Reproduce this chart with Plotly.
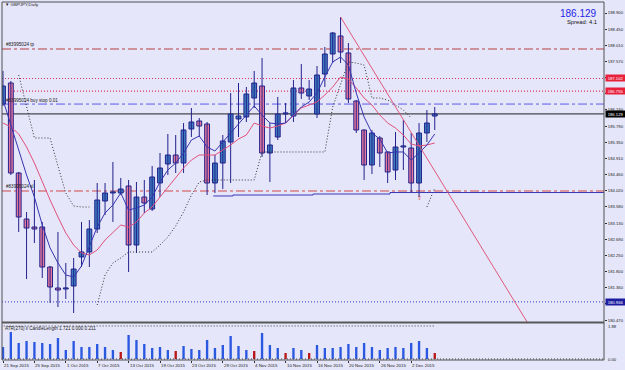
import plotly.graph_objects as go

# ---------------- data ----------------
bars = list(range(56))
opens = [186.402, 186.978, 184.507, 183.244, 183.024, 183.024, 181.926, 181.349, 181.322, 181.404,
         182.201, 182.338, 182.969, 183.738, 183.958, 183.958, 184.150, 182.530, 183.848, 183.518,
         184.232, 184.754, 185.001, 184.781, 185.715, 185.935, 185.852, 184.232, 184.781, 185.358,
         185.990, 186.045, 186.566, 186.896, 185.056, 185.495, 186.127, 186.072, 186.841, 186.621,
         186.127, 187.225, 187.774, 188.269, 187.802, 186.484, 185.688, 184.727, 185.468, 185.084,
         184.589, 185.221, 185.193, 184.232, 185.605, 186.072]
highs = [187.308, 187.033, 184.534, 183.436, 184.315, 183.162, 181.953, 182.887, 182.036, 182.173,
         183.162, 183.216, 184.232, 184.232, 184.809, 184.370, 184.315, 184.260, 184.315, 184.699,
         185.056, 185.578, 185.550, 185.880, 186.292, 186.017, 185.907, 185.001, 185.550, 186.703,
         186.978, 186.868, 187.308, 187.664, 185.880, 186.594, 186.429, 187.060, 187.500, 187.060,
         187.445, 187.967, 188.378, 188.790, 188.076, 186.511, 185.700, 185.688, 185.523, 185.100,
         185.633, 185.962, 185.605, 185.880, 186.237, 186.319]
lows = [186.347, 184.452, 182.887, 181.596, 182.585, 181.624, 180.938, 180.828, 181.047, 180.663,
        181.926, 181.926, 182.860, 183.354, 183.162, 183.903, 181.789, 182.310, 183.409, 183.464,
        183.848, 184.452, 184.507, 184.507, 185.495, 185.495, 183.903, 183.958, 184.068, 184.232,
        185.495, 185.907, 186.292, 184.946, 184.260, 185.413, 185.880, 185.907, 186.539, 186.511,
        186.017, 186.868, 187.527, 187.527, 186.429, 185.605, 184.315, 184.479, 184.672, 184.232,
        184.315, 184.589, 183.958, 183.848, 185.358, 185.688]
closes = [186.896, 184.507, 183.299, 182.997, 182.969, 181.926, 181.377, 181.294, 181.349, 181.871,
          182.338, 182.969, 183.766, 183.958, 183.985, 184.068, 182.530, 183.848, 183.683, 184.397,
          184.644, 185.001, 184.781, 185.688, 185.907, 185.797, 184.232, 184.781, 185.386, 186.127,
          186.072, 186.676, 186.978, 185.056, 185.276, 186.127, 186.154, 186.841, 186.703, 186.813,
          187.198, 187.774, 188.351, 187.829, 186.539, 185.688, 184.727, 185.605, 185.056, 184.534,
          185.221, 185.248, 184.232, 185.605, 185.880, 186.129]

ma_fast = [186.511, 185.825, 185.139, 184.452, 183.848, 183.079, 182.448, 182.036, 181.706, 181.651,
           181.953, 182.475, 183.024, 183.409, 183.628, 183.958, 183.491, 183.546, 183.628, 183.848,
           184.260, 184.589, 184.781, 185.056, 185.413, 185.523, 185.221, 185.111, 185.358, 185.605,
           185.880, 186.099, 186.347, 186.099, 185.880, 185.852, 185.880, 186.099, 186.319, 186.456,
           186.703, 187.143, 187.555, 187.692, 187.472, 186.703, 186.045, 185.605, 185.440, 185.056,
           185.084, 185.084, 184.864, 185.056, 185.276, 185.578]
ma_slow = [185.880, 185.770, 185.578, 185.221, 184.781, 184.260, 183.766, 183.299, 182.860, 182.530,
           182.311, 182.256, 182.393, 182.667, 182.860, 183.079, 183.024, 183.162, 183.409, 183.573,
           183.848, 184.123, 184.397, 184.644, 184.864, 185.001, 185.001, 185.001, 185.138, 185.276,
           185.440, 185.550, 185.880, 185.797, 185.742, 185.797, 185.880, 186.099, 186.292, 186.374,
           186.456, 186.649, 186.868, 187.143, 187.088, 186.841, 186.566, 186.374, 186.099, 185.880,
           185.742, 185.550, 185.303, 185.248, 185.276, 185.331]

stop_a_bars = list(range(2, 12))
stop_a = [187.198, 186.292, 185.468, 185.468, 185.468, 184.699, 183.958, 183.601, 183.573, 183.573]
stop_b_bars = list(range(12, 53))
stop_b = [180.883, 181.706, 182.036, 182.173, 182.338, 182.338, 182.338, 182.338, 182.530, 182.750,
          183.052, 183.436, 183.903, 184.260, 184.315, 184.315, 184.315, 184.315, 184.315, 184.315,
          184.315, 185.084, 185.084, 185.084, 185.084, 185.084, 185.084, 185.084, 185.084, 185.084,
          186.319, 186.923, 187.555, 187.527, 187.472, 186.566, 186.566, 186.511, 186.374, 186.237,
          186.017]
stop_c_bars = [54, 55]
stop_c = [183.573, 184.095]

low_level_x = [26.8, 29.3, 29.3, 39.5, 39.5, 49.3, 49.3, 76.6]
low_level_y = [183.876, 183.876, 183.903, 183.903, 183.930, 183.930, 183.971, 183.971]

trend_x = [43, 67]
trend_y = [188.790, 180.333]

candle_len = [0.684, 1.538, 0.912, 1.025, 0.968, 0.912, 0.855, 1.196, 0.513, 1.025,
              0.684, 0.684, 0.855, 0.684, 0.513, 0.399, 1.367, 1.082, 0.855, 0.627,
              0.684, 0.513, 0.456, 0.741, 0.570, 0.513, 1.082, 0.627, 0.798, 1.310,
              0.741, 0.513, 0.456, 1.481, 0.798, 0.627, 0.342, 0.627, 0.513, 0.342,
              0.798, 0.627, 0.627, 0.684, 0.855, 0.684, 0.912, 0.684, 0.513, 0.627,
              0.684, 0.627, 0.912, 1.025, 0.627, 0.342]
len_red_bars = [15, 22, 32, 36, 39, 55]
atr_level = 1.88

date_bars = [0, 4, 8, 12, 16, 20, 24, 28, 32, 36, 40, 44, 48, 52]
date_labels = ["21 Sep 2015", "25 Sep 2015", "1 Oct 2015", "7 Oct 2015", "13 Oct 2015",
               "19 Oct 2015", "23 Oct 2015", "29 Oct 2015", "4 Nov 2015", "10 Nov 2015",
               "16 Nov 2015", "20 Nov 2015", "26 Nov 2015", "2 Dec 2015"]

price_ticks = [188.900, 188.450, 188.010, 187.570, 187.130, 186.690, 186.240, 185.790, 185.350,
               184.910, 184.460, 184.020, 183.580, 183.130, 182.690, 182.250, 181.800, 181.360,
               180.920, 180.470]
hidden_ticks = [187.130, 186.690, 180.920]   # covered by the price boxes

tp_level = 187.912
sl_level = 184.013
buy_stop_level = 186.400
red_levels = [187.102, 186.755]
bid = 186.129
low_blue_level = 180.966
arrow_bar, arrow_price = 53, 183.821

# ---------------- styling ----------------
BG = "#e6e6fa"
NAVY = "#22228c"
BULL = "#3d7cbd"
BEAR = "#e8789a"
FONT = "Liberation Sans"
FINE_DOT = "1px,2px"

PL, PR, PT, PB = 2, 604, 2, 360
W, H = PR - PL, PB - PT


def px(x):
    return (x - PL) / W


def py(y):
    return (PB - y) / H


fig = go.Figure()

# wicks
wx, wy = [], []
for i, h, l in zip(bars, highs, lows):
    wx += [i, i, None]
    wy += [l, h, None]
fig.add_trace(go.Scatter(x=wx, y=wy, mode="lines", line=dict(color=NAVY, width=1),
                         hoverinfo="skip", xaxis="x", yaxis="y"))

# bodies
base = [min(o, c) for o, c in zip(opens, closes)]
hgt = [max(abs(c - o), 0.03) for o, c in zip(opens, closes)]
cols = [BULL if c >= o else BEAR for o, c in zip(opens, closes)]
fig.add_trace(go.Bar(x=bars, y=hgt, base=base, width=0.62,
                     marker=dict(color=cols, line=dict(color=NAVY, width=1)),
                     xaxis="x", yaxis="y"))

# moving averages
fig.add_trace(go.Scatter(x=bars, y=ma_slow, mode="lines", line=dict(color="#e0507a", width=1),
                         xaxis="x", yaxis="y"))
fig.add_trace(go.Scatter(x=bars, y=ma_fast, mode="lines", line=dict(color="#3535b0", width=1),
                         xaxis="x", yaxis="y"))

# trailing stops
for bx, by in [(stop_a_bars, stop_a), (stop_b_bars, stop_b), (stop_c_bars, stop_c)]:
    fig.add_trace(go.Scatter(x=bx, y=by, mode="lines",
                             line=dict(color="#303030", width=1, dash=FINE_DOT),
                             xaxis="x", yaxis="y"))

# low level step line
fig.add_trace(go.Scatter(x=low_level_x, y=low_level_y, mode="lines",
                         line=dict(color="#3838b8", width=1), xaxis="x", yaxis="y"))

# trend line
fig.add_trace(go.Scatter(x=trend_x, y=trend_y, mode="lines",
                         line=dict(color="#e0587a", width=1), xaxis="x", yaxis="y"))

# lower panel bars
len_cols = ["#b81818" if i in len_red_bars else "#2a58e0" for i in bars]
fig.add_trace(go.Bar(x=bars, y=candle_len, width=0.3, marker=dict(color=len_cols, line=dict(width=0)),
                     xaxis="x", yaxis="y2"))
fig.add_trace(go.Scatter(x=[-0.3, 55], y=[atr_level, atr_level], mode="lines",
                         line=dict(color="#404040", width=1, dash=FINE_DOT), xaxis="x", yaxis="y2"))

shapes = []


def hline(y, color, dash, width=1, layer="below"):
    shapes.append(dict(type="line", xref="paper", x0=0, x1=1, yref="y", y0=y, y1=y,
                       line=dict(color=color, width=width, dash=dash), layer=layer))


hline(tp_level, "#b84040", "dashdot")
for lv in red_levels:
    hline(lv, "#e0305a", FINE_DOT, 1.2)
hline(buy_stop_level, "#5a5ae8", "dashdot")
hline(bid, "#202020", "solid")
hline(sl_level, "#d04848", "dashdot")
hline(low_blue_level, "#5a5ad8", FINE_DOT, 1.2)
# lower panel baseline
shapes.append(dict(type="line", xref="paper", x0=0, x1=1, yref="y2", y0=0, y1=0,
                   line=dict(color="#404040", width=1, dash=FINE_DOT)))
# frame and separator
shapes.append(dict(type="rect", xref="paper", yref="paper", x0=0, x1=1, y0=0, y1=1,
                   line=dict(color="#505050", width=1), layer="above"))
shapes.append(dict(type="line", xref="paper", yref="paper", x0=0, x1=1, y0=py(322.5), y1=py(322.5),
                   line=dict(color="#585858", width=2), layer="above"))

ann = []
small = dict(family=FONT, size=4.6, color="#202020")
ann.append(dict(xref="paper", yref="paper", x=px(3), y=py(5), xanchor="left", yanchor="middle",
                text="▼ GBPJPY,Daily", showarrow=False, font=dict(family=FONT, size=4.4, color="#202020")))
ann.append(dict(xref="paper", yref="y", x=px(4), y=tp_level, xanchor="left", yanchor="bottom",
                text="#83995024 tp", showarrow=False, font=small))
ann.append(dict(xref="paper", yref="y", x=px(4), y=buy_stop_level, xanchor="left", yanchor="bottom",
                text="#83995024 buy stop 0.01", showarrow=False, font=small, yshift=-1))
ann.append(dict(xref="paper", yref="y", x=px(4), y=sl_level, xanchor="left", yanchor="bottom",
                text="#83995024 sl", showarrow=False, font=small))
ann.append(dict(xref="paper", yref="paper", x=px(599), y=py(13), xanchor="right", yanchor="middle",
                text="186.129", showarrow=False, font=dict(family=FONT, size=10, color="#1e1ee6")))
ann.append(dict(xref="paper", yref="paper", x=px(599), y=py(22), xanchor="right", yanchor="middle",
                text="Spread: 4.1", showarrow=False, font=dict(family=FONT, size=5.8, color="#101010")))
ann.append(dict(xref="paper", yref="paper", x=px(3), y=py(328.5), xanchor="left", yanchor="middle",
                text="ATR(270) ii CandleLength 1.721 0.000 0.211", showarrow=False, font=small))
ann.append(dict(xref="x", yref="y", x=arrow_bar, y=arrow_price, xanchor="center", yanchor="middle",
                text="⇧", showarrow=False, font=dict(family="DejaVu Sans", size=6, color="#e03030")))

# price boxes on the axis
for lv, bg in [(red_levels[0], "#e8203c"), (red_levels[1], "#e8203c"), (bid, "#000000"),
               (low_blue_level, "#1c1ca0")]:
    ann.append(dict(xref="paper", yref="y", x=1, y=lv, xanchor="left", yanchor="middle",
                    text=f"{lv:.3f}", showarrow=False, bgcolor=bg, borderpad=0.6, xshift=1,
                    width=18, font=dict(family=FONT, size=4.2, color="#ffffff")))

# lower panel axis labels
ann.append(dict(xref="paper", yref="y2", x=1, y=atr_level, xanchor="left", yanchor="middle",
                text="1.88", showarrow=False, xshift=2, font=dict(family=FONT, size=4.2, color="#202020")))
ann.append(dict(xref="paper", yref="y2", x=1, y=0, xanchor="left", yanchor="middle",
                text="0.00", showarrow=False, xshift=2, font=dict(family=FONT, size=4.2, color="#202020")))

# date labels
for b, t in zip(date_bars, date_labels):
    ann.append(dict(xref="x", yref="paper", x=b, y=0, xanchor="left", yanchor="top",
                    text=t, showarrow=False, xshift=-1, yshift=-0.5,
                    font=dict(family=FONT, size=4.4, color="#202020")))

tick_text = ["" if v in hidden_ticks else f"{v:.3f}" for v in price_ticks]

fig.update_layout(
    width=625, height=370,
    margin=dict(l=PL, r=625 - PR, t=PT, b=370 - PB),
    paper_bgcolor=BG, plot_bgcolor=BG,
    showlegend=False, barmode="overlay",
    shapes=shapes, annotations=ann,
    xaxis=dict(domain=[0, 1], range=[-(3 - PL) / 7.85, (PR - 3) / 7.85], anchor="y2",
               showgrid=False, zeroline=False, showticklabels=False,
               tickvals=date_bars, ticks="outside", ticklen=2, tickcolor="#303030"),
    yaxis=dict(domain=[py(322), 1], range=[189.257 - 0.027457 * 322, 189.257 - 0.027457 * 2],
               side="right", anchor="x", showgrid=False, zeroline=False,
               tickvals=price_ticks, ticktext=tick_text,
               ticks="outside", ticklen=2, tickcolor="#303030",
               tickfont=dict(family=FONT, size=4.2, color="#202020")),
    yaxis2=dict(domain=[0, py(324)], range=[-0.057, 1.994], side="right", anchor="x",
                showgrid=False, zeroline=False, showticklabels=False),
)

fig.write_html("out.html")
